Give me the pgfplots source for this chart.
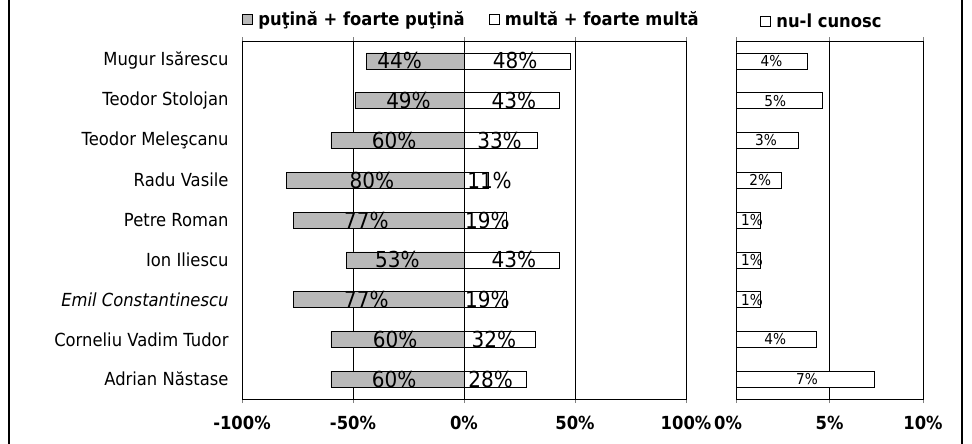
\documentclass[border=0pt]{standalone}
\usepackage{pgfplots}
\pgfplotsset{compat=1.18}
\usepackage{pgfplotstable}
\usepackage{fontspec}
\setmainfont{DejaVu Sans}[FakeStretch=0.91]

% idx: row (0 = top), neg/pos: bar values, lneg/lpos: label positions, nlab/plab: label values
\pgfplotstableread{
idx neg pos lneg lpos nlab plab
0 -44 48 -29 23 44 48
1 -49 43 -25 22.5 49 43
2 -60 33 -31.5 16 60 33
3 -80 11 -41.5 11.5 80 11
4 -77 19 -44 10.5 77 19
5 -53 43 -30 22.5 53 43
6 -77 19 -44 10.5 77 19
7 -60 32 -31 13.5 60 32
8 -60 28 -31.5 12 60 28
}\leftdata

\pgfplotstableread{
idx val lx lab
0 3.8 1.9 4
1 4.6 2.1 5
2 3.3 1.6 3
3 2.4 1.3 2
4 1.3 0.85 1
5 1.3 0.85 1
6 1.3 0.85 1
7 4.3 2.1 4
8 7.4 3.8 7
}\rightdata

\pgfplotsset{
  sqlegend/.style={legend image code/.code={\draw[##1] (0pt,-5pt) rectangle (10pt,5pt); \path[draw=none, fill=none] (0pt,0pt) rectangle (14pt,0.1pt);}},
  common/.style={
    scale only axis, height=358pt, ymin=-0.5, ymax=8.5, y dir=reverse,
    axis line style={black, thin},
    xmajorgrids, grid style={black, thin},
    tick align=outside, major tick length=4pt,
    ytick style={draw=none},
    /pgf/number format/assume math mode=true,
    xticklabel style={font=\fontsize{18}{20}\selectfont\bfseries, yshift=-10pt},
  },
}

\begin{document}
\begin{tikzpicture}
\useasboundingbox (0,0) rectangle (972pt,444pt);
\draw[line width=2.5pt] (9pt,0) -- (9pt,444pt);
\draw[line width=2.5pt] (962pt,0) -- (962pt,444pt);

\begin{axis}[common,
  at={(242pt,45pt)}, anchor=south west, width=444pt,
  xmin=-100, xmax=100, xtick={-100,-50,0,50,100},
  xticklabels={-100\%,-50\%,0\%,50\%,100\%},
  ytick={0,...,8},
  yticklabels={Mugur Isărescu, Teodor Stolojan, Teodor Meleşcanu, Radu Vasile, Petre Roman, Ion Iliescu, \textit{Emil Constantinescu}, Corneliu Vadim Tudor, Adrian Năstase},
  yticklabel style={font=\fontsize{18}{20}\selectfont, xshift=-6pt},
  legend style={at={(axis description cs:0,1)}, anchor=west, yshift=22pt, xshift=0pt,
    draw=none, fill=none, inner sep=0pt,
    font=\fontsize{18}{20}\selectfont\bfseries,
    /tikz/every even column/.append style={column sep=22pt}},
  legend columns=2, legend cell align=left,
]
\addplot[xbar, bar width=16pt, bar shift=0pt, fill=gray!55, draw=black, sqlegend]
  table[x=neg, y=idx] {\leftdata};
\addlegendentry{puţină + foarte puţină}
\addplot[xbar, bar width=16pt, bar shift=0pt, fill=white, draw=black, sqlegend]
  table[x=pos, y=idx] {\leftdata};
\addlegendentry{multă + foarte multă}
\addplot[draw=none, forget plot, point meta=explicit,
  nodes near coords={\pgfmathprintnumber[int detect]{\pgfplotspointmeta}\%},
  nodes near coords align=center,
  every node near coord/.append style={font=\fontsize{22}{24}\selectfont, anchor=center, inner sep=0pt}]
  table[x=lneg, y=idx, meta=nlab] {\leftdata};
\addplot[draw=none, forget plot, point meta=explicit,
  nodes near coords={\pgfmathprintnumber[int detect]{\pgfplotspointmeta}\%},
  nodes near coords align=center,
  every node near coord/.append style={font=\fontsize{22}{24}\selectfont, anchor=center, inner sep=0pt}]
  table[x=lpos, y=idx, meta=plab] {\leftdata};
\end{axis}

\begin{axis}[common,
  at={(736pt,45pt)}, anchor=south west, width=187pt,
  xmin=0, xmax=10, xtick={0,5,10},
  xticklabels={\hspace*{-16pt}0\%,5\%,10\%},
  ytick=\empty,
  legend style={at={(axis description cs:0,1)}, anchor=west, yshift=20pt, xshift=24pt,
    draw=none, fill=none, inner sep=0pt,
    font=\fontsize{18}{20}\selectfont\bfseries},
]
\addplot[xbar, bar width=16pt, bar shift=0pt, fill=white, draw=black, sqlegend]
  table[x=val, y=idx] {\rightdata};
\addlegendentry{nu-l cunosc}
\addplot[draw=none, forget plot, point meta=explicit,
  nodes near coords={\pgfmathprintnumber[int detect]{\pgfplotspointmeta}\%},
  nodes near coords align=center,
  every node near coord/.append style={font=\fontsize{15}{17}\selectfont, anchor=center, inner sep=0pt}]
  table[x=lx, y=idx, meta=lab] {\rightdata};
\end{axis}
\end{tikzpicture}
\end{document}
